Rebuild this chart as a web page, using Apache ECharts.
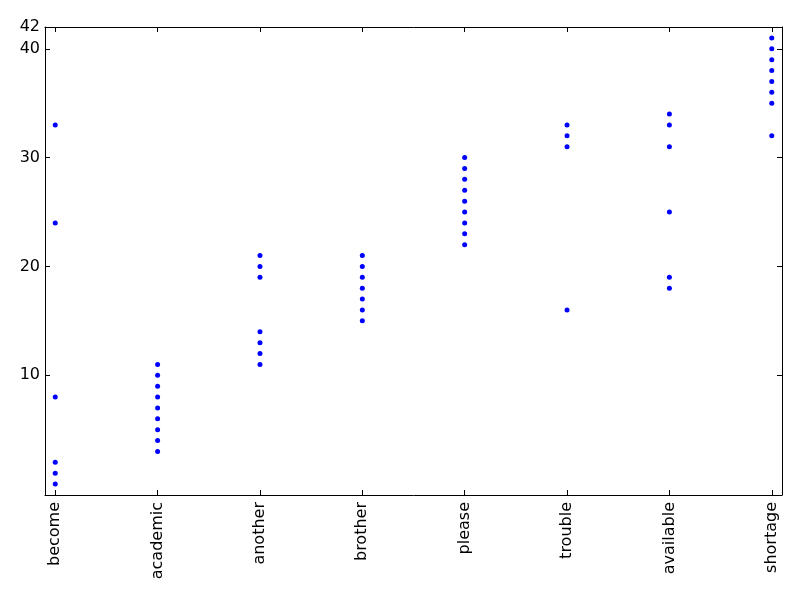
<!DOCTYPE html>
<html>
<head>
<meta charset="utf-8">
<script src="https://cdn.jsdelivr.net/npm/echarts@6/dist/echarts.min.js"></script>
<style>
  html, body { margin: 0; padding: 0; background: #fff; }
  #chart { width: 800px; height: 600px; }
</style>
</head>
<body>
<div id="chart"></div>
<script>
// categories along x
const categories = ['become', 'academic', 'another', 'brother', 'please', 'trouble', 'available', 'shortage']

// y values per category
const become = [33, 24, 8, 2, 1, 0]
const academic = [11, 10, 9, 8, 7, 6, 5, 4, 3]
const another = [21, 20, 19, 14, 13, 12, 11]
const brother = [21, 20, 19, 18, 17, 16, 15]
const please = [30, 29, 28, 27, 26, 25, 24, 23, 22]
const trouble = [33, 32, 31, 16]
const available = [34, 33, 31, 25, 19, 18]
const shortage = [41, 40, 39, 38, 37, 36, 35, 32]

const yTicks = [10, 20, 30, 40, 42]
const xTicks = [0, 1, 2, 3, 4, 5, 6, 7]

const groups = [become, academic, another, brother, please, trouble, available, shortage]
const points = []
groups.forEach((vals, i) => {
  vals.forEach(v => points.push([i, v]))
})

const font = { fontFamily: 'DejaVu Sans', fontSize: 16, color: '#000' }
const lineStyle = { color: '#000', width: 1 }

function xAxisDef(pos, showLabel) {
  return {
    type: 'value',
    position: pos,
    min: -0.1,
    max: 7.1,
    splitLine: { show: false },
    axisLine: { show: true, onZero: false, lineStyle: lineStyle },
    axisTick: { show: true, inside: true, length: 5, customValues: xTicks, lineStyle: lineStyle },
    axisLabel: {
      show: showLabel,
      customValues: xTicks,
      rotate: 90,
      margin: 7,
      formatter: v => categories[Math.round(v)],
      ...font
    }
  }
}

function yAxisDef(pos, showLabel) {
  return {
    type: 'value',
    position: pos,
    min: -1,
    max: 42,
    splitLine: { show: false },
    axisLine: { show: true, onZero: false, lineStyle: lineStyle },
    axisTick: { show: true, inside: true, length: 5, customValues: yTicks, lineStyle: lineStyle },
    axisLabel: {
      show: showLabel,
      customValues: yTicks,
      margin: 5,
      ...font
    }
  }
}

const chart = echarts.init(document.getElementById('chart'), null, { renderer: 'canvas' })
chart.setOption({
  animation: false,
  backgroundColor: '#fff',
  grid: { left: 45, right: 18, top: 27, bottom: 105, containLabel: false },
  xAxis: [xAxisDef('bottom', true), xAxisDef('top', false)],
  yAxis: [yAxisDef('left', true), yAxisDef('right', false)],
  series: [{
    type: 'scatter',
    xAxisIndex: 0,
    yAxisIndex: 0,
    symbol: 'circle',
    symbolSize: 5,
    itemStyle: { color: '#0000ff', opacity: 1 },
    data: points
  }]
})
</script>
</body>
</html>
